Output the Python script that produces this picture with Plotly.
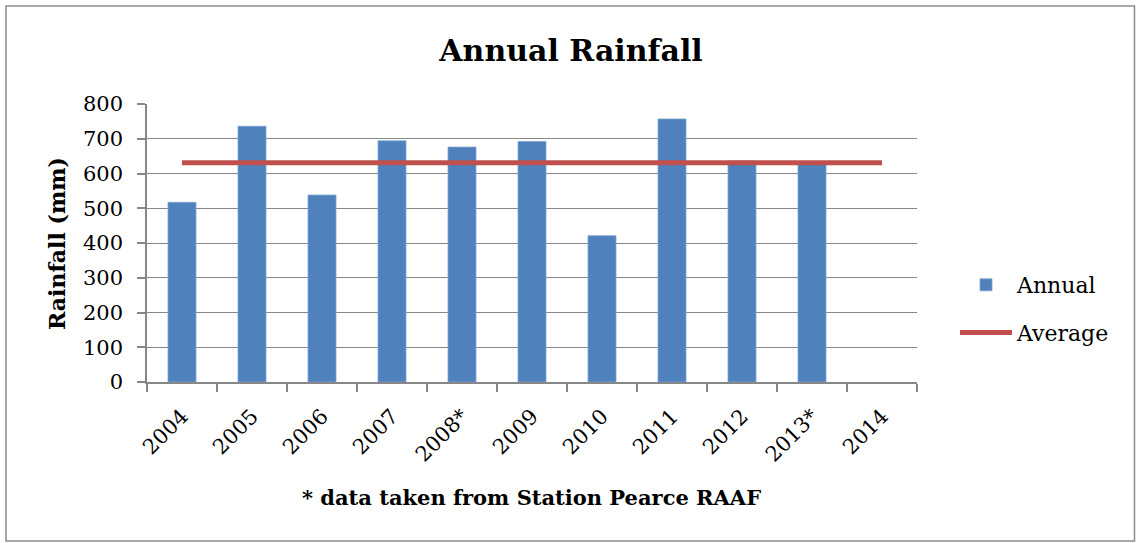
import plotly.graph_objects as go

years = ["2004", "2005", "2006", "2007", "2008*", "2009", "2010", "2011", "2012", "2013*", "2014"]
annual = [517, 736, 538, 694, 676, 692, 421, 757, 636, 634, None]
average = [631, 631, 631, 631, 631, 631, 631, 631, 631, 631, 631]
y_ticks = [0, 100, 200, 300, 400, 500, 600, 700, 800]

FONT = "DejaVu Serif"
GRID = "#878787"

W, H = 1136, 543
L, R, T, B = 147, 219, 104, 161
pw, ph = W - L - R, H - T - B

def px(x):
    return (x - L) / pw

def py(y):
    return (H - B - y) / ph

fig = go.Figure()
fig.add_trace(go.Bar(
    x=years, y=annual, name="Annual", legendgroup="a",
    marker=dict(color="#4F81BD", line=dict(color="#7FA3D1", width=0.8)),
))
fig.add_trace(go.Scatter(
    x=years, y=average, name="Average", mode="lines", legendgroup="b",
    line=dict(color="#C0504D", width=5),
))

fig.update_layout(
    width=W, height=H,
    margin=dict(l=L, r=R, t=T, b=B),
    paper_bgcolor="white", plot_bgcolor="white",
    bargap=0.6,
    font=dict(family=FONT, size=21, color="black"),
    showlegend=True,
    legend=dict(x=px(955), y=py(309), xanchor="left", yanchor="middle",
                font=dict(family=FONT, size=22), tracegroupgap=16,
                itemwidth=52, bgcolor="rgba(0,0,0,0)"),
    title=dict(text="<b>Annual Rainfall</b>", x=571 / W, xanchor="center",
               y=1 - 50 / H, yanchor="middle",
               font=dict(family=FONT, size=30, color="black")),
    xaxis=dict(
        type="category", showgrid=False, showline=True, linecolor=GRID, linewidth=1.5,
        ticks="outside", tickson="boundaries", ticklen=8, tickcolor=GRID, tickwidth=1.5,
        tickangle=-45, tickfont=dict(family=FONT, size=21), ticklabelstandoff=12,
        range=[-0.5, 10.5],
    ),
    yaxis=dict(
        range=[0, 800], tickvals=y_ticks, showgrid=True, gridcolor=GRID, gridwidth=1.3,
        showline=True, linecolor=GRID, linewidth=1.5, zeroline=False,
        ticks="outside", ticklen=8, tickcolor=GRID, tickwidth=1.5,
        tickfont=dict(family=FONT, size=21), ticklabelstandoff=10,
    ),
    annotations=[
        dict(text="<b>Rainfall (mm)</b>", textangle=-90, xref="paper", yref="paper",
             x=px(57), y=py(244), xanchor="center", yanchor="middle", showarrow=False,
             font=dict(family=FONT, size=22)),
        dict(text="<b>* data taken from Station Pearce RAAF</b>", xref="paper", yref="paper",
             x=px(531), y=py(497), xanchor="center", yanchor="middle", showarrow=False,
             font=dict(family=FONT, size=21)),
    ],
    shapes=[
        dict(type="rect", xref="paper", yref="paper",
             x0=px(6), x1=px(1134.5), y0=py(541), y1=py(6),
             line=dict(color="#8C8C8C", width=1.5), fillcolor="rgba(0,0,0,0)", layer="below"),
    ],
)

fig.write_html("out.html")
